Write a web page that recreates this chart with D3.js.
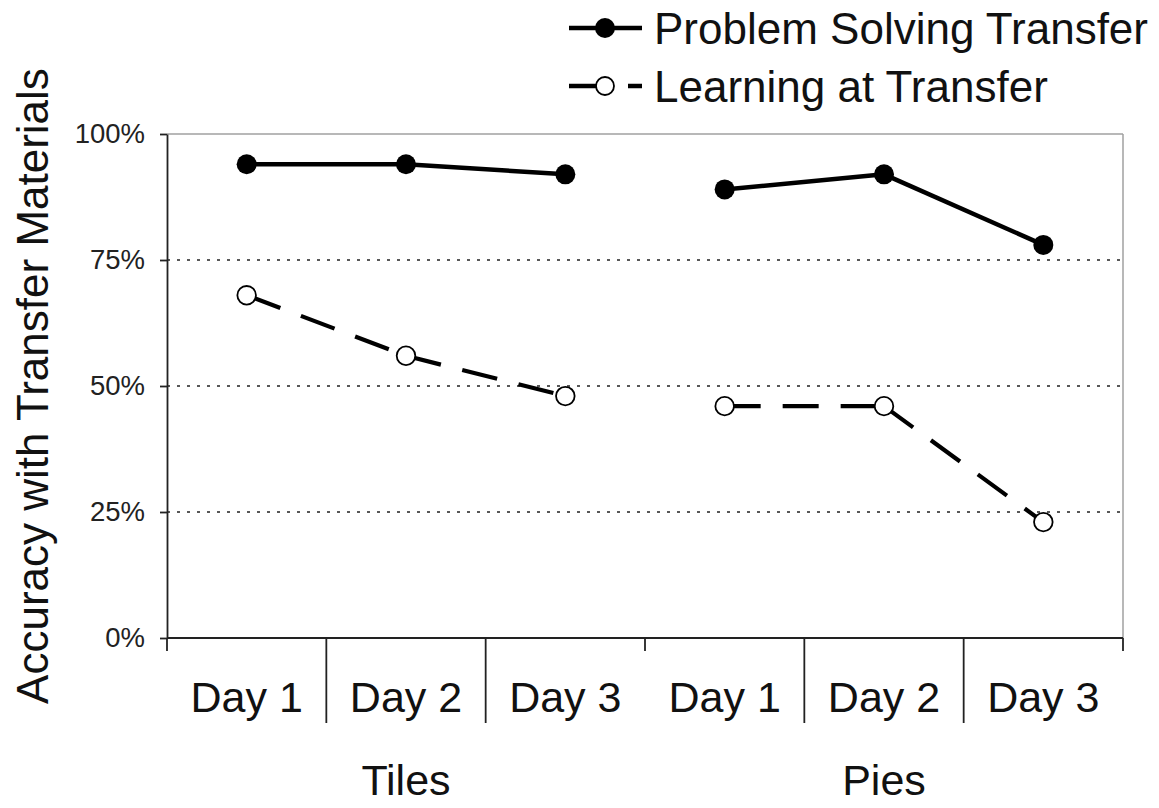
<!DOCTYPE html>
<html>
<head>
<meta charset="utf-8">
<script src="https://cdn.jsdelivr.net/npm/d3@7"></script>
<style>
  html, body { margin: 0; padding: 0; background: #fff; }
  svg { display: block; font-family: "Liberation Sans", Arial, sans-serif; }
</style>
</head>
<body>
<svg id="chart" width="1159" height="808"></svg>
<script>
// ---- data ----
const groups = ["Tiles", "Pies"];
const days = ["Day 1", "Day 2", "Day 3"];
const problemSolving = [94, 94, 92, 89, 92, 78];   // % accuracy
const learningAtTransfer = [68, 56, 48, 46, 46, 23];
const yTicks = [0, 25, 50, 75, 100];
const seriesNames = ["Problem Solving Transfer", "Learning at Transfer"];

(function () {
// ---- layout ----
const pLeft = 167, pRight = 1123, pTop = 134, pBottom = 638;
const svg = d3.select("#chart");

const cats = [];
groups.forEach(g => days.forEach(d => cats.push(g + "|" + d)));

const x = d3.scaleBand().domain(cats).range([pLeft, pRight]).padding(0);
const y = d3.scaleLinear().domain([0, 100]).range([pBottom, pTop]);

// plot border (top & right, gray)
svg.append("line").attr("x1", pLeft).attr("x2", pRight).attr("y1", y(100)).attr("y2", y(100))
  .attr("stroke", "#a0a0a0").attr("stroke-width", 1.5);
svg.append("line").attr("x1", pRight).attr("x2", pRight).attr("y1", y(100)).attr("y2", pBottom)
  .attr("stroke", "#a0a0a0").attr("stroke-width", 1.5);

// gridlines
svg.append("g").selectAll("line").data(yTicks.filter(t => t > 0 && t < 100)).join("line")
  .attr("x1", pLeft).attr("x2", pRight)
  .attr("y1", d => y(d)).attr("y2", d => y(d))
  .attr("stroke", "#222").attr("stroke-width", 1.5)
  .attr("stroke-dasharray", "3,7");

// y axis
const yAxis = d3.axisLeft(y).tickValues(yTicks).tickFormat(d => d + "%")
  .tickSize(7).tickSizeOuter(0).tickPadding(15);
const gy = svg.append("g").attr("transform", `translate(${pLeft},0)`).call(yAxis);
gy.select(".domain").attr("stroke", "#222").attr("stroke-width", 1.8);
gy.selectAll(".tick line").attr("stroke", "#222").attr("stroke-width", 1.8);
gy.selectAll(".tick text").attr("font-size", 27.5).attr("fill", "#222")
  .attr("font-family", "'Liberation Sans', Arial, sans-serif");

// x axis line
svg.append("line").attr("x1", pLeft).attr("x2", pRight).attr("y1", pBottom).attr("y2", pBottom)
  .attr("stroke", "#222").attr("stroke-width", 1.8);
// short ticks at group boundaries, long ticks between days
const boundaries = d3.range(cats.length + 1).map(i => i === cats.length ? pRight : x(cats[i]));
svg.append("g").selectAll("line").data(boundaries).join("line")
  .attr("x1", d => d).attr("x2", d => d)
  .attr("y1", pBottom)
  .attr("y2", (d, i) => (i % days.length === 0) ? pBottom + 13 : pBottom + 85)
  .attr("stroke", "#222").attr("stroke-width", 1.8);

// day labels
svg.append("g").selectAll("text").data(cats).join("text")
  .attr("x", d => x(d) + x.bandwidth() / 2)
  .attr("y", 712)
  .attr("text-anchor", "middle")
  .attr("font-size", 43).attr("fill", "#111")
  .text(d => d.split("|")[1]);

// group labels
svg.append("g").selectAll("text").data(groups).join("text")
  .attr("x", g => {
    const a = x(g + "|" + days[0]);
    const b = x(g + "|" + days[days.length - 1]) + x.bandwidth();
    return (a + b) / 2;
  })
  .attr("y", 795)
  .attr("text-anchor", "middle")
  .attr("font-size", 43).attr("fill", "#111")
  .text(g => g);

// y axis title
svg.append("text")
  .attr("transform", `translate(48,${(pTop + pBottom) / 2}) rotate(-90)`)
  .attr("text-anchor", "middle")
  .attr("font-size", 44).attr("fill", "#111")
  .text("Accuracy with Transfer Materials");

// series
function drawSeries(values, dash, width, filled) {
  const pts = cats.map((c, i) => ({ c, g: c.split("|")[0], v: values[i] }));
  const segs = [];
  for (let i = 0; i < pts.length - 1; i++) {
    if (pts[i].g === pts[i + 1].g) segs.push([pts[i], pts[i + 1]]);
  }
  const cx = p => x(p.c) + x.bandwidth() / 2;
  svg.append("g").selectAll("line").data(segs).join("line")
    .attr("x1", s => cx(s[0])).attr("y1", s => y(s[0].v))
    .attr("x2", s => cx(s[1])).attr("y2", s => y(s[1].v))
    .attr("stroke", "#000").attr("stroke-width", width)
    .attr("stroke-dasharray", dash);
  svg.append("g").selectAll("circle").data(pts).join("circle")
    .attr("cx", cx).attr("cy", p => y(p.v))
    .attr("r", filled ? 10 : 9.3)
    .attr("fill", filled ? "#000" : "#fff")
    .attr("stroke", "#000").attr("stroke-width", filled ? 0 : 1.8);
}
drawSeries(learningAtTransfer, "36,22", 4.2, false);
drawSeries(problemSolving, null, 4.5, true);

// legend
const legend = svg.append("g");
const legRows = [
  { name: seriesNames[0], y: 28, filled: true, dash: null },
  { name: seriesNames[1], y: 86, filled: false, dash: "28,31,40" }
];
legRows.forEach(r => {
  legend.append("line").attr("x1", 569).attr("x2", 642).attr("y1", r.y).attr("y2", r.y)
    .attr("stroke", "#000").attr("stroke-width", 4.5)
    .attr("stroke-dasharray", r.dash);
  legend.append("circle").attr("cx", 605).attr("cy", r.y).attr("r", r.filled ? 10 : 9)
    .attr("fill", r.filled ? "#000" : "#fff").attr("stroke", "#000")
    .attr("stroke-width", r.filled ? 0 : 1.8);
  legend.append("text").attr("x", 654).attr("y", r.y + 15.5)
    .attr("font-size", 44).attr("fill", "#111").text(r.name);
});
})();
</script>
</body>
</html>
